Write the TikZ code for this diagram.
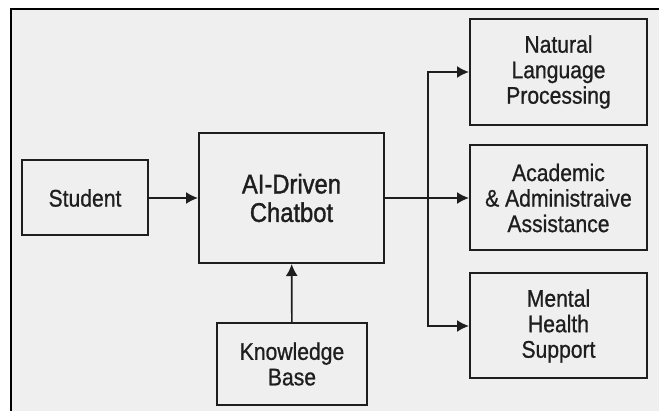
\documentclass[tikz,border=0pt]{standalone}
\usepackage{fontspec}
\setmainfont{Liberation Sans}[FakeStretch=0.88, FakeBold=0.8]
\newfontfamily\headfont{Liberation Sans}[FakeStretch=0.88, FakeBold=1.3]
\usetikzlibrary{arrows.meta}
\definecolor{bggray}{HTML}{EFEFEF}
\definecolor{ink}{HTML}{1E1E1E}
\tikzset{
	blockbox/.style={draw=ink, line width=2pt, fill=bggray, text=ink, align=center, inner sep=0pt,
		font=\fontsize{24}{25.5}\selectfont},
	flow/.style={draw=ink, line width=1.7pt, -{Latex[length=12pt, width=12pt]}}
}
\begin{document}
\begin{tikzpicture}[x=1pt, y=1pt]
	\useasboundingbox (0, 0) rectangle (659, -411);
	\fill[white] (0, 0) rectangle (659, -411);
	\fill[bggray] (11, -9) rectangle (659, -411);
	\draw[line width=1.4pt, black] (11, -411) -- (11, -9) -- (659, -9);
	\node[blockbox, minimum width=126pt, minimum height=75pt] (student) at (85, -198) {Student};
	\node[blockbox, minimum width=185pt, minimum height=130pt, font=\headfont\fontsize{27}{28.5}\selectfont] (chatbot) at (291.5, -198) {AI-Driven\\Chatbot};
	\node[blockbox, minimum width=150pt, minimum height=82pt] (kb) at (292, -364) {Knowledge\\Base};
	\node[blockbox, minimum width=177pt, minimum height=106pt] (nlp) at (558.5, -72) {Natural\\Language\\Processing};
	\node[blockbox, minimum width=177pt, minimum height=105pt] (acad) at (558.5, -198) {Academic\\\& Administraive\\Assistance};
	\node[blockbox, minimum width=177pt, minimum height=105pt] (mental) at (558.5, -326) {Mental\\Health\\Support};
	\coordinate (split) at (428, -198);
	\draw[flow] (student) -- (chatbot);
	\draw[flow] (kb) -- (chatbot);
	\draw[flow] (chatbot) -- (acad);
	\draw[flow] (split) |- (nlp.west);
	\draw[flow] (split) |- (mental.west);
\end{tikzpicture}
\end{document}
